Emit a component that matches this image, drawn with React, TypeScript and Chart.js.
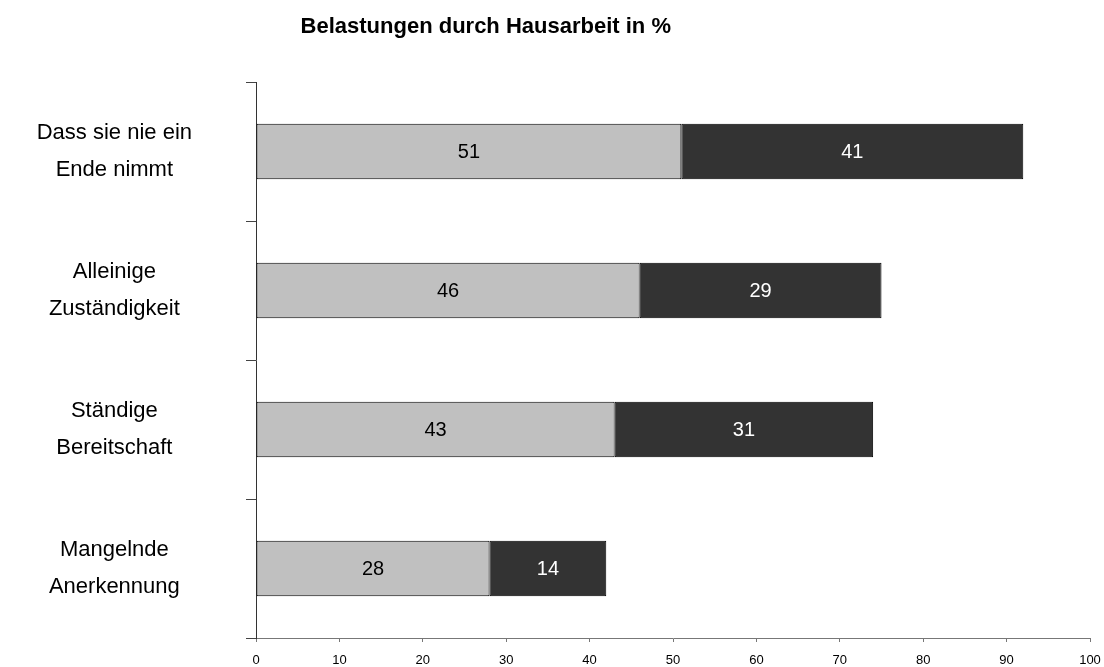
import React, { useEffect, useRef } from "react";
import { Chart, registerables } from "chart.js";

Chart.register(...registerables);

const TITLE = "Belastungen durch Hausarbeit in %";
const categories: string[][] = [
  ["Dass sie nie ein", "Ende nimmt"],
  ["Alleinige", "Zuständigkeit"],
  ["Ständige", "Bereitschaft"],
  ["Mangelnde", "Anerkennung"],
];
const lightValues = [51, 46, 43, 28];
const darkValues = [41, 29, 31, 14];
const xTicks = [0, 10, 20, 30, 40, 50, 60, 70, 80, 90, 100];

const FONT = "'Liberation Sans', Arial, sans-serif";
const WIDTH = 1104;
const HEIGHT = 667;

// Title text drawn above the plot
const titlePlugin = {
  id: "chartTitle",
  afterDraw(chart: Chart) {
    const ctx = chart.ctx;
    ctx.save();
    ctx.font = `bold 22px ${FONT}`;
    ctx.fillStyle = "#000";
    ctx.textAlign = "center";
    ctx.textBaseline = "middle";
    ctx.fillText(TITLE, chart.width * 0.44, 27);
    ctx.restore();
  },
};

// Value labels centred in each bar segment
const valueLabelPlugin = {
  id: "valueLabels",
  afterDatasetsDraw(chart: Chart) {
    const ctx = chart.ctx;
    ctx.save();
    ctx.font = `20px ${FONT}`;
    ctx.textAlign = "center";
    ctx.textBaseline = "middle";
    chart.data.datasets.forEach((ds: any, di: number) => {
      const meta = chart.getDatasetMeta(di);
      ctx.fillStyle = di === 0 ? "#000" : "#fff";
      meta.data.forEach((el: any, i: number) => {
        const cx = (el.x + el.base) / 2;
        ctx.fillText(String(ds.data[i]), cx, el.y + 1);
      });
    });
    ctx.restore();
  },
};

export default function App() {
  const canvasRef = useRef<HTMLCanvasElement>(null);

  useEffect(() => {
    if (!canvasRef.current) return;
    const chart = new Chart(canvasRef.current, {
      type: "bar",
      data: {
        labels: categories,
        datasets: [
          {
            label: "A",
            data: lightValues,
            backgroundColor: "#c0c0c0",
            borderColor: "#000",
            borderWidth: 1,
            borderSkipped: false,
            barPercentage: 0.4,
            categoryPercentage: 1,
          },
          {
            label: "B",
            data: darkValues,
            backgroundColor: "#333333",
            borderColor: "#000",
            borderWidth: 1,
            borderSkipped: false,
            barPercentage: 0.4,
            categoryPercentage: 1,
          },
        ],
      },
      options: {
        indexAxis: "y",
        animation: false,
        responsive: false,
        maintainAspectRatio: false,
        devicePixelRatio: 1,
        layout: { padding: { top: 82, right: 14, bottom: 0, left: 0 } },
        plugins: {
          legend: { display: false },
          title: { display: false },
          tooltip: { enabled: false },
        },
        scales: {
          x: {
            stacked: true,
            min: 0,
            max: 100,
            afterBuildTicks: (scale: any) => {
              scale.ticks = xTicks.map((v) => ({ value: v }));
            },
            afterFit: (scale: any) => {
              scale.height = 29;
              scale.paddingLeft = 0;
              scale.paddingRight = 0;
            },
            border: { display: true, color: "#777", width: 1 },
            grid: {
              display: true,
              drawOnChartArea: false,
              drawTicks: true,
              tickLength: 4,
              color: "#777",
            },
            ticks: {
              color: "#000",
              padding: 11,
              maxRotation: 0,
              autoSkip: false,
              font: { family: FONT, size: 13 },
            },
          },
          y: {
            stacked: true,
            afterFit: (scale: any) => {
              scale.width = 256;
              scale.paddingTop = 0;
              scale.paddingBottom = 0;
            },
            border: { display: true, color: "#333", width: 1 },
            grid: {
              display: true,
              offset: true,
              drawOnChartArea: false,
              drawTicks: true,
              tickLength: 10,
              color: "#444",
            },
            ticks: {
              color: "#000",
              crossAlign: "center",
              padding: 54,
              autoSkip: false,
              font: { family: FONT, size: 22, lineHeight: 1.7 },
            },
          },
        },
      },
      plugins: [titlePlugin, valueLabelPlugin],
    });
    return () => chart.destroy();
  }, []);

  return (
    <div
      style={{
        position: "fixed",
        left: 0,
        top: 0,
        width: WIDTH,
        height: HEIGHT,
        background: "#fff",
      }}
    >
      <canvas
        ref={canvasRef}
        width={WIDTH}
        height={HEIGHT}
        style={{ display: "block", width: WIDTH, height: HEIGHT }}
      />
    </div>
  );
}
